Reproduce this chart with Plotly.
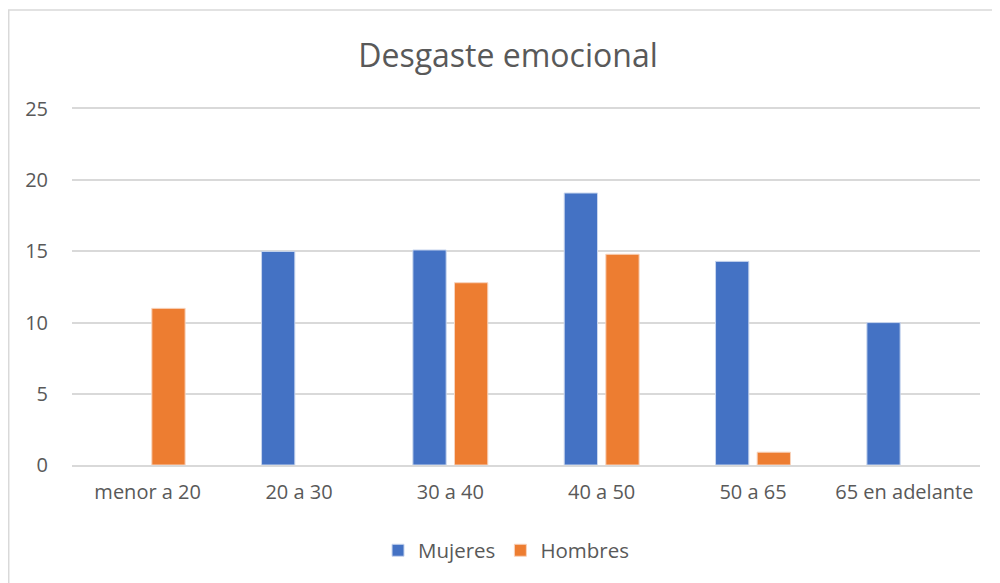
import plotly.graph_objects as go

categories = ["menor a 20", "20 a 30", "30 a 40", "40 a 50", "50 a 65", "65 en adelante"]
mujeres = [None, 15.0, 15.1, 19.1, 14.3, 10.0]
hombres = [11.0, None, 12.8, 14.8, 0.9, None]
y_ticks = [0, 5, 10, 15, 20, 25]

FONT = "Open Sans"
TXT = "#595959"

fig = go.Figure()
fig.add_trace(go.Bar(name="Mujeres", x=categories, y=mujeres,
                     marker=dict(color="#4472C4", line=dict(color="#C9D6EE", width=1))))
fig.add_trace(go.Bar(name="Hombres", x=categories, y=hombres,
                     marker=dict(color="#ED7D31", line=dict(color="#F8D3BC", width=1))))

fig.update_layout(
    width=1000, height=583,
    paper_bgcolor="white", plot_bgcolor="white",
    margin=dict(l=64, r=28, t=101, b=126),
    barmode="group", bargap=0.45, bargroupgap=0.2,
    title=dict(text="Desgaste emocional", x=0.5, xanchor="center", y=0.918, yanchor="middle",
               font=dict(family=FONT, size=32, color=TXT)),
    font=dict(family=FONT, size=20, color=TXT),
    showlegend=True,
    legend=dict(orientation="h", x=0.478, xanchor="center", y=-0.24, yanchor="middle",
                font=dict(family=FONT, size=20.5, color=TXT), traceorder="normal",
                itemwidth=30),
    xaxis=dict(showgrid=False, showline=True, mirror=True, linecolor="#D9D9D9", linewidth=1.5,
               tickfont=dict(family=FONT, size=20, color=TXT), ticks="", ticklabelstandoff=8),
    yaxis=dict(range=[0, 25], tickvals=y_ticks, showgrid=True, gridcolor="#D9D9D9", gridwidth=1.5,
               zeroline=False, showline=False, ticks="",
               tickfont=dict(family=FONT, size=20, color=TXT), ticklabelstandoff=23),
    shapes=[dict(type="rect", xref="paper", yref="paper", x0=-0.0697, x1=1.05, y0=-0.4, y1=1.278,
                 line=dict(color="#D9D9D9", width=1.5), fillcolor="rgba(0,0,0,0)", layer="below")],
)

fig.write_html("out.html")
